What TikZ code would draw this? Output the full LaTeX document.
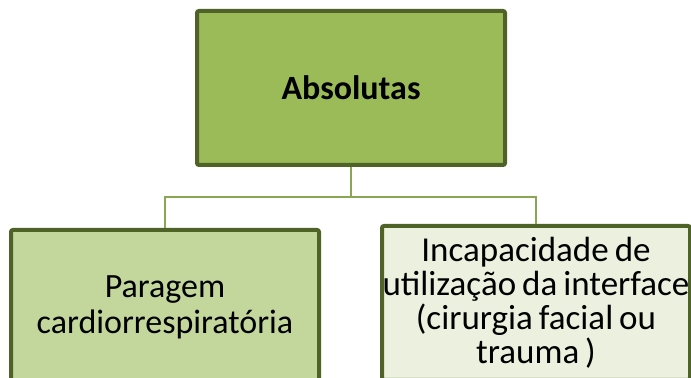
\documentclass[tikz,border=0pt]{standalone}
\usepackage{fontspec}
\setmainfont{Carlito}
\usetikzlibrary{positioning}
\definecolor{boxline}{HTML}{4F6228}
\definecolor{olivefill}{HTML}{9BBB59}
\definecolor{midgreen}{HTML}{C3D69B}
\definecolor{palegreen}{HTML}{EBF1DE}
\definecolor{linkgreen}{HTML}{8AA654}
\newcommand\tightsp{\spaceskip=3pt\relax}
\begin{document}
\begin{tikzpicture}[x=0.5pt,y=-0.5pt,
  box/.style={draw=boxline, line width=2pt, rounded corners=1pt,
    minimum width=154pt, minimum height=77pt, align=center, inner sep=0pt,
    font=\fontsize{17}{18}\selectfont},
  link/.style={draw=linkgreen, line width=1pt}]
\useasboundingbox (0,0) rectangle (691,378);
\clip (0,0) rectangle (691,378);
\node[box, fill=olivefill, font=\fontsize{17}{18}\selectfont\bfseries] (abs) at (351,88) {Absolutas};
\node[box, fill=midgreen] (parag) at (165,307) {Paragem\\cardiorrespiratória};
\node[box, fill=palegreen, font={\fontsize{17.5}{17}\selectfont\tightsp}] (incap) at (536,303) {Incapacidade de\\utilização da interface\\(cirurgia facial ou\\trauma )};
\draw[link] (abs.south) -- ++(0,30) coordinate (fork);
\draw[link] (fork) -| (parag.north);
\draw[link] (fork) -| (incap.north);
\end{tikzpicture}
\end{document}
